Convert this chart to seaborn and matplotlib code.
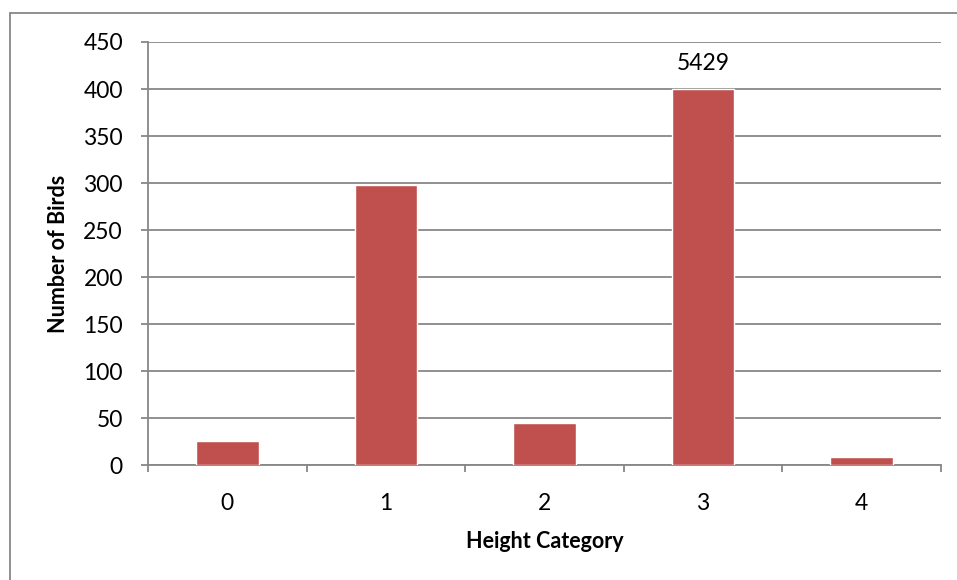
import numpy as np
import matplotlib
matplotlib.use("Agg")
import matplotlib.pyplot as plt
from matplotlib.lines import Line2D
from matplotlib.ticker import MultipleLocator, FixedLocator
import seaborn as sns

# Bird counts per height category
categories = ["0", "1", "2", "3", "4"]
counts = [26, 298, 45, 5429, 9]
y_max = 450
bar_cap = 400  # tall bars are drawn to this height and labelled with their true count

sns.set_theme(style="white")
plt.rcParams["font.family"] = ["Lato", "DejaVu Sans"]

W, H = 957, 580
fig = plt.figure(figsize=(W / 100, H / 100), dpi=100)
ax = fig.add_axes([148 / W, 1 - 465.3 / H, (941 - 148) / W, (465.3 - 42) / H])

shown = np.minimum(counts, bar_cap)
sns.barplot(x=categories, y=shown, order=categories, color="#C0504D",
            saturation=1, width=0.395, ax=ax, zorder=3)

grid_c = "#878787"
tick_fs = 16.5
label_fs = 15.5
ax.set_ylim(0, y_max)
ax.set_xlim(-0.5, len(categories) - 0.5)
ax.yaxis.set_major_locator(MultipleLocator(50))
ax.yaxis.grid(True, color=grid_c, linewidth=1.3, zorder=0)
ax.set_axisbelow(True)

for side in ["top", "right"]:
    ax.spines[side].set_visible(False)
for side in ["left", "bottom"]:
    ax.spines[side].set_color(grid_c)
    ax.spines[side].set_linewidth(1.3)

ax.tick_params(axis="y", which="major", left=True, length=5, width=1.3,
               color=grid_c, pad=13, labelsize=tick_fs, labelcolor="black")
ax.tick_params(axis="x", which="major", bottom=False, pad=14,
               labelsize=tick_fs, labelcolor="black")
ax.xaxis.set_minor_locator(FixedLocator(np.arange(-0.5, len(categories), 1.0)))
ax.tick_params(axis="x", which="minor", bottom=True, length=5, width=1.3,
               color=grid_c)

ax.set_xlabel("Height Category", fontsize=label_fs, fontweight="bold",
              color="black", labelpad=12)
ax.set_ylabel("Number of Birds", fontsize=label_fs, fontweight="bold",
              color="black", labelpad=10)

# Label the capped bar with its actual count
for i, (c, s) in enumerate(zip(counts, shown)):
    if c > s:
        ax.annotate(f"{c}", xy=(i, s), xytext=(0, 18.5), textcoords="offset points",
                    ha="center", va="center", fontsize=tick_fs, color="black")

# Chart-area frame
fig.add_artist(Line2D([9.5 / W, 1.0], [1 - 12.7 / H, 1 - 12.7 / H],
                      transform=fig.transFigure, color=grid_c, linewidth=1.3))
fig.add_artist(Line2D([9.5 / W, 9.5 / W], [0.0, 1 - 12.7 / H],
                      transform=fig.transFigure, color=grid_c, linewidth=1.3))

fig.savefig("out.png", dpi=100, facecolor="white")
